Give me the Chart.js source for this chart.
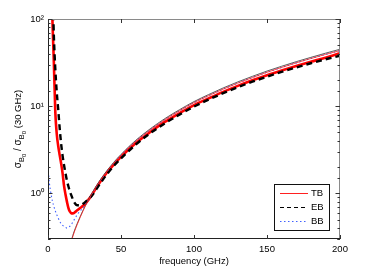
<!DOCTYPE html>
<html><head><meta charset="utf-8">
<script src="https://cdn.jsdelivr.net/npm/chart.js@4/dist/chart.umd.min.js"></script>
<style>html,body{margin:0;padding:0;background:#fff;}canvas{display:block;}</style>
</head><body>
<canvas id="c" width="374" height="269"></canvas>
<script>
// frequency (GHz)
const freq = [0.5,1,2,3,3.7,4,5,6,7,8,9,10,11,12,13,14,15,16,17,18,20,22,24,26,28,30,35,40,45,50,60,70,80,90,100,110,120,130,140,150,160,170,180,190,200];
// thin black reference curve (no legend entry)
const refBlack = [null,null,null,null,null,null,null,null,null,null,null,null,null,null,null,null,null,0.29,0.33,0.37,0.45,0.54,0.64,0.75,0.87,1.0,1.37,1.79,2.27,2.8,4.05,5.5,7.2,9.1,11.3,13.6,16.2,19.0,22.0,25.3,28.7,32.4,36.3,40.5,45];
// TB (thin red)
const tb = [null,null,null,null,null,null,null,null,null,null,null,null,null,null,null,null,null,0.28,0.32,0.36,0.44,0.53,0.63,0.74,0.85,0.98,1.34,1.75,2.22,2.74,3.95,5.35,7.0,8.85,11.0,13.2,15.7,18.4,21.3,24.5,27.8,31.4,35.2,39.2,43.5];
// thick red curve (no legend entry)
const thickRed = [null,null,300,100,45,32,8.6,4.8,3.5,2.75,2.2,1.7,1.22,0.97,0.8,0.68,0.62,0.59,0.59,0.6,0.64,0.68,0.72,0.78,0.86,0.96,1.3,1.7,2.13,2.62,3.75,5.05,6.6,8.3,10.3,12.3,14.6,17.1,19.8,22.7,25.7,28.9,32.3,36.0,40.5];
// EB (dashed black)
const eb = [null,null,null,250,100,65,27,14.5,9.2,5.6,3.7,2.7,2.1,1.7,1.4,1.2,1.05,0.95,0.86,0.79,0.73,0.73,0.76,0.81,0.87,0.94,1.25,1.63,2.06,2.52,3.62,4.9,6.35,8.0,9.9,11.9,14.1,16.5,19.1,21.8,24.7,27.8,31.1,34.5,38.0];
// BB (dotted blue)
const bb = [1.6,1.3,1.0,0.82,0.74,0.71,0.63,0.57,0.52,0.48,0.45,0.43,0.42,0.41,0.40,0.41,0.42,0.44,0.47,0.5,0.57,0.63,0.68,0.76,0.86,0.98,1.34,1.75,2.22,2.74,3.95,5.35,7.0,8.85,11.0,13.2,15.7,18.4,21.3,24.5,27.8,31.4,35.2,39.2,43.5];
// x tick labels
const xTicks = [0,50,100,150,200];
const yLabels = {1:'10\u2070',10:'10\u00b9',100:'10\u00b2'};
const legendOrder = ['TB','EB','BB'];

function pts(arr){ return freq.map((f,i)=>({x:f,y:arr[i]})).filter(p=>p.y!==null); }

const FONT = 'Liberation Sans, Arial, Helvetica, sans-serif';

const framePlugin = {
  id:'frame',
  afterDraw(chart){
    const {ctx, chartArea:a, scales} = chart;
    ctx.save();
    ctx.lineWidth = 1;
    ctx.strokeStyle = '#8a8a8a';
    ctx.beginPath();
    ctx.moveTo(a.left, a.top+0.5); ctx.lineTo(a.right-0.5, a.top+0.5); ctx.lineTo(a.right-0.5, a.bottom);
    ctx.stroke();
    ctx.strokeStyle = '#222';
    ctx.beginPath();
    ctx.moveTo(a.left+0.5, a.top); ctx.lineTo(a.left+0.5, a.bottom-0.5); ctx.lineTo(a.right, a.bottom-0.5);
    ctx.stroke();
    const xs = scales.x;
    ctx.strokeStyle = '#333';
    xs.ticks.forEach(t=>{
      const px = Math.round(xs.getPixelForValue(t.value))+0.5;
      ctx.beginPath(); ctx.moveTo(px,a.bottom); ctx.lineTo(px,a.bottom-4); ctx.stroke();
      ctx.beginPath(); ctx.moveTo(px,a.top); ctx.lineTo(px,a.top+4); ctx.stroke();
    });
    const ys = scales.y;
    ys.ticks.forEach(t=>{
      const py = Math.round(ys.getPixelForValue(t.value))+0.5;
      const major = yLabels[t.value] !== undefined;
      const L = major ? 4.5 : 2.5;
      ctx.beginPath(); ctx.moveTo(a.left,py); ctx.lineTo(a.left+L,py); ctx.stroke();
      ctx.beginPath(); ctx.moveTo(a.right,py); ctx.lineTo(a.right-L,py); ctx.stroke();
    });
    // legend
    const lx=274.5, ly=184.5, lw=55, lh=46;
    ctx.fillStyle='#fff'; ctx.fillRect(lx,ly,lw,lh);
    ctx.strokeStyle='#111'; ctx.lineWidth=1; ctx.strokeRect(lx,ly,lw,lh);
    legendOrder.forEach((name,i)=>{
      const d = chart.data.datasets.find(ds=>ds.label===name);
      const y = 193.5 + i*14;
      ctx.save();
      ctx.strokeStyle = d.borderColor; ctx.lineWidth = d.legendWidth;
      ctx.setLineDash(d.legendDash || []);
      ctx.beginPath(); ctx.moveTo(280,y); ctx.lineTo(308,y); ctx.stroke();
      ctx.restore();
      ctx.fillStyle='#000'; ctx.font='9.5px '+FONT; ctx.textBaseline='middle'; ctx.textAlign='left';
      ctx.fillText(d.label, 311, y);
    });
    // x title
    ctx.fillStyle='#000'; ctx.font='9.5px '+FONT; ctx.textAlign='center'; ctx.textBaseline='middle';
    ctx.fillText('frequency (GHz)', (a.left+a.right)/2, 261);
    // y title with subscripts
    ctx.save();
    ctx.translate(18, (a.top+a.bottom)/2);
    ctx.rotate(-Math.PI/2);
    const parts = [
      ['\u03c3',10,0],['B',7.5,2.5],['0',6,4.5],[' / \u03c3',10,0],['B',7.5,2.5],['0',6,4.5],[' (30 GHz)',9.5,0]
    ];
    let total=0;
    parts.forEach(p=>{ ctx.font=p[1]+'px '+FONT; total+=ctx.measureText(p[0]).width; });
    let cx=-total/2;
    ctx.textAlign='left'; ctx.textBaseline='alphabetic';
    parts.forEach(p=>{ ctx.font=p[1]+'px '+FONT; ctx.fillText(p[0],cx,3+p[2]); cx+=ctx.measureText(p[0]).width; });
    ctx.restore();
    ctx.restore();
  }
};

new Chart(document.getElementById('c'), {
  type:'line',
  data:{ datasets:[
    {label:'thick', data:pts(thickRed), borderColor:'#ff0000', borderWidth:2.6},
    {label:'EB', data:pts(eb), borderColor:'#000000', borderWidth:2.4, borderDash:[6,4], legendDash:[4,3], legendWidth:1},
    {label:'BB', data:pts(bb), borderColor:'#4060ff', borderWidth:1.1, borderDash:[1.5,2.5], legendDash:[1.5,2.5], legendWidth:1},
    {label:'ref', data:pts(refBlack), borderColor:'#333333', borderWidth:0.8},
    {label:'TB', data:pts(tb), borderColor:'#ff2020', borderWidth:0.8, legendWidth:1},
  ].map((d,i)=>Object.assign({order:-i, pointRadius:0, fill:false, cubicInterpolationMode:'monotone', spanGaps:false}, d))},
  options:{
    responsive:false, animation:false, devicePixelRatio:1,
    layout:{padding:{left:0,top:19,right:34,bottom:0}},
    plugins:{legend:{display:false}, tooltip:{enabled:false}},
    scales:{
      x:{type:'linear', min:0, max:200,
        afterBuildTicks(s){ s.ticks = xTicks.map(v=>({value:v})); },
        afterFit(s){ s.height=30; },
        grid:{display:false, drawTicks:false}, border:{display:false},
        ticks:{color:'#000', font:{size:9.5, family:FONT}, padding:5, maxRotation:0}},
      y:{type:'logarithmic', min:0.3, max:100,
        afterFit(s){ s.width=48; },
        grid:{display:false, drawTicks:false}, border:{display:false},
        ticks:{color:'#000', font:{size:9.5, family:FONT}, padding:4, autoSkip:false,
          callback:(v)=> yLabels[v] !== undefined ? yLabels[v] : ''}}
    }
  },
  plugins:[framePlugin]
});
</script>
</body></html>
